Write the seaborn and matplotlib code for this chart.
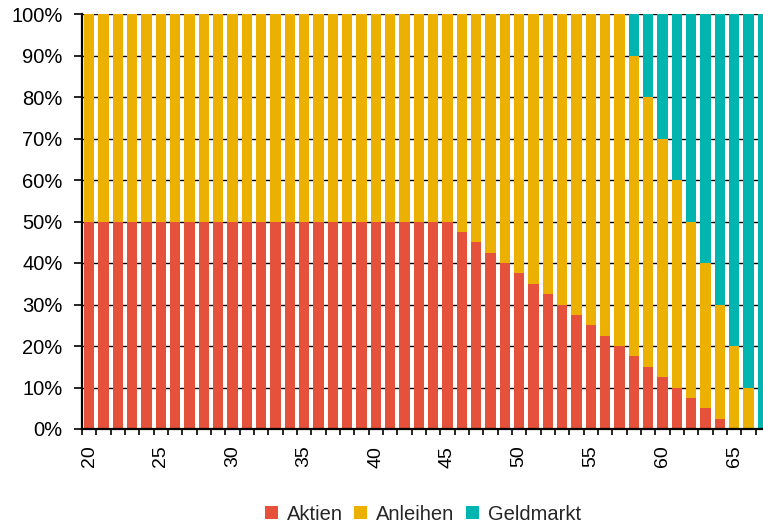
import numpy as np
import pandas as pd
import matplotlib
matplotlib.use("Agg")
import matplotlib.pyplot as plt
import seaborn as sns
from matplotlib.ticker import FixedLocator, PercentFormatter
from matplotlib.patches import Patch

# Portfolio allocation by age (percent)
ages = list(range(20, 68))
aktien = [50.0] * 26 + [47.5, 45.0, 42.5, 40.0, 37.5, 35.0, 32.5, 30.0, 27.5, 25.0,
                        22.5, 20.0, 17.5, 15.0, 12.5, 10.0, 7.5, 5.0, 2.5, 0.0, 0.0, 0.0]
geldmarkt = [0.0] * 38 + [10.0, 20.0, 30.0, 40.0, 50.0, 60.0, 70.0, 80.0, 90.0, 100.0]
anleihen = [100.0 - a - g for a, g in zip(aktien, geldmarkt)]

series_names = ["Aktien", "Anleihen", "Geldmarkt"]
colors = {"Aktien": "#E5513A", "Anleihen": "#EBB000", "Geldmarkt": "#00B4B0"}
tick_ages = [20, 25, 30, 35, 40, 45, 50, 55, 60, 65]

df = pd.DataFrame({"Alter": [str(a) for a in ages],
                   "Aktien": aktien, "Anleihen": anleihen, "Geldmarkt": geldmarkt})
df["top_aktien"] = df["Aktien"]
df["top_anleihen"] = df["Aktien"] + df["Anleihen"]
df["top_geld"] = df["top_anleihen"] + df["Geldmarkt"]

sns.set_style("white")
plt.rcParams["font.family"] = ["Liberation Sans", "DejaVu Sans"]

fig = plt.figure(figsize=(7.63, 5.25), dpi=100)
ax = fig.add_axes([82 / 763, 96 / 525, (770 - 82) / 763, 415 / 525])

order = df["Alter"].tolist()
for col, name in [("top_geld", "Geldmarkt"), ("top_anleihen", "Anleihen"), ("top_aktien", "Aktien")]:
    sns.barplot(data=df, x="Alter", y=col, order=order, color=colors[name],
                width=0.7, saturation=1, linewidth=0, ax=ax, zorder=2)

ax.set_xlim(-0.5, len(ages) - 0.5)
ax.set_ylim(0, 100)
ax.set_xlabel("")
ax.set_ylabel("")

ax.yaxis.set_major_locator(FixedLocator(np.arange(0, 101, 10)))
ax.yaxis.set_major_formatter(PercentFormatter(decimals=0))
ax.set_axisbelow(True)
ax.yaxis.grid(True, color="black", linewidth=1.0, zorder=0)
ax.xaxis.grid(False)

ax.set_xticks([ages.index(a) for a in tick_ages])
ax.set_xticklabels([str(a) for a in tick_ages], rotation=90)
ax.xaxis.set_minor_locator(FixedLocator(np.arange(-0.5, len(ages), 1.0)))

ax.tick_params(axis="x", which="major", length=0, pad=12, labelsize=14, colors="black")
ax.tick_params(axis="x", which="minor", length=4, width=1.2, direction="out", color="black", bottom=True)
ax.tick_params(axis="y", which="major", length=6, width=1.2, direction="out", pad=8,
               labelsize=14.5, colors="black", left=True)

for side in ["top", "right"]:
    ax.spines[side].set_visible(False)
for side in ["left", "bottom"]:
    ax.spines[side].set_color("black")
    ax.spines[side].set_linewidth(1.6)
    ax.spines[side].set_zorder(3)

handles = [Patch(facecolor=colors[n], edgecolor="none", label=n) for n in series_names]
fig.legend(handles=handles, loc="center", bbox_to_anchor=(423 / 763, 11 / 525), ncol=3,
           frameon=False, fontsize=14.5, handlelength=0.65, handleheight=0.65,
           handletextpad=0.45, columnspacing=0.55, borderaxespad=0, borderpad=0)

fig.savefig("out.png", dpi=100)
